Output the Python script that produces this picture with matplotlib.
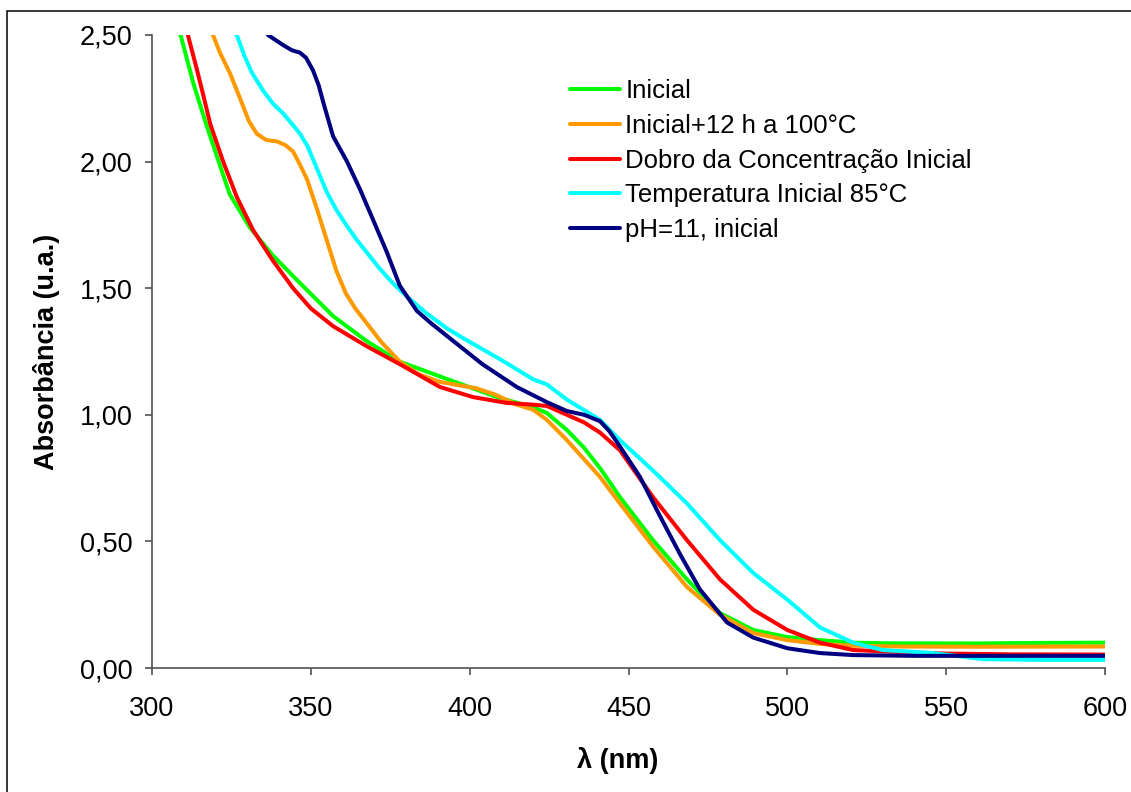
import numpy as np
import matplotlib
matplotlib.use("Agg")
import matplotlib.pyplot as plt
import matplotlib.patches as patches
from matplotlib.ticker import FixedLocator, FixedFormatter

plt.rcParams['font.family'] = ['Liberation Sans', 'DejaVu Sans']

# curvas (lambda em nm, absorbancia em u.a.)
inicial_x = [309, 313, 317, 321, 324.5, 330.8, 338, 346.6, 357, 367.7, 378, 393.8, 409.5,
             420, 424.3, 430.6, 436, 441, 447.3, 457.7, 468.4, 478.8, 489.3, 500, 510.3,
             520.7, 535, 560, 580, 600]
inicial_y = [2.50, 2.31, 2.15, 2.00, 1.87, 1.74, 1.63, 1.52, 1.39, 1.29, 1.21, 1.137, 1.066,
             1.03, 1.007, 0.94, 0.87, 0.79, 0.675, 0.505, 0.35, 0.217, 0.15, 0.122, 0.11,
             0.10, 0.097, 0.097, 0.099, 0.10]

inicial12_x = [319.2, 321.4, 324.5, 327.7, 330.5, 333, 336, 339.3, 342, 344.4, 346.5, 348.8,
               352, 355, 358, 361, 364, 367.7, 372, 378, 384, 390.6, 402, 408, 414.8, 420,
               424.3, 430.6, 441, 447.3, 457.7, 468.4, 478.8, 489.3, 500, 510.3, 520.7, 535,
               560, 600]
inicial12_y = [2.50, 2.43, 2.35, 2.25, 2.16, 2.11, 2.085, 2.08, 2.065, 2.04, 1.99, 1.93,
               1.81, 1.69, 1.57, 1.48, 1.42, 1.36, 1.29, 1.21, 1.16, 1.13, 1.105, 1.08, 1.04,
               1.02, 0.98, 0.90, 0.755, 0.65, 0.48, 0.32, 0.21, 0.138, 0.11, 0.095, 0.088,
               0.085, 0.084, 0.085]

dobro_x = [311.3, 314, 316, 318.3, 322.4, 326.7, 331.8, 338, 344.4, 350, 357, 367.7, 378,
           390.6, 401, 411.7, 420, 424.3, 430.6, 436, 441, 447.3, 457.7, 468.4, 478.8,
           489.3, 500, 510.3, 520.7, 535.5, 550, 570, 600]
dobro_y = [2.50, 2.37, 2.27, 2.15, 2.00, 1.86, 1.73, 1.61, 1.50, 1.42, 1.35, 1.27, 1.20,
           1.11, 1.07, 1.047, 1.04, 1.035, 1.00, 0.97, 0.93, 0.86, 0.675, 0.505, 0.35,
           0.23, 0.15, 0.10, 0.071, 0.063, 0.057, 0.054, 0.053]

temp85_x = [326.7, 329, 331.5, 335, 338, 341.3, 344, 346.6, 349, 351, 353, 355, 358,
            361.4, 364.5, 367.7, 371.5, 375.8, 380, 386.5, 393, 399, 409.5, 420, 424.3,
            430.6, 441, 447.3, 457.7, 468.4, 478.8, 489.3, 500, 510.3, 520.7, 530, 545.8,
            555, 561.6, 580, 600]
temp85_y = [2.50, 2.42, 2.35, 2.28, 2.23, 2.19, 2.15, 2.11, 2.06, 2.00, 1.94, 1.88, 1.81,
            1.745, 1.69, 1.64, 1.58, 1.52, 1.47, 1.40, 1.34, 1.295, 1.22, 1.14, 1.12,
            1.06, 0.98, 0.90, 0.78, 0.65, 0.505, 0.375, 0.27, 0.16, 0.10, 0.071, 0.059,
            0.045, 0.035, 0.032, 0.032]

ph11_x = [336.5, 341.3, 344, 346.6, 348.5, 350.7, 352.5, 354, 357, 361.4, 365.5, 369.6,
          374, 378, 383.4, 388, 394, 404, 414.8, 424.3, 430.6, 436, 441, 444, 447.3, 453.6,
          459.9, 466.2, 472.5, 481, 489.3, 500, 510.3, 520.7, 540, 570, 600]
ph11_y = [2.50, 2.46, 2.44, 2.43, 2.41, 2.36, 2.30, 2.23, 2.10, 2.00, 1.89, 1.77,
          1.64, 1.51, 1.41, 1.36, 1.30, 1.20, 1.11, 1.05, 1.015, 1.00, 0.975, 0.935, 0.875,
          0.755, 0.60, 0.45, 0.31, 0.18, 0.12, 0.078, 0.059, 0.051, 0.048, 0.048, 0.048]

series = [
    ("Inicial", inicial_x, inicial_y, "#00FF00"),
    ("Inicial+12 h a 100°C", inicial12_x, inicial12_y, "#FF9900"),
    ("Dobro da Concentração Inicial", dobro_x, dobro_y, "#FF0000"),
    ("Temperatura Inicial 85°C", temp85_x, temp85_y, "#00FFFF"),
    ("pH=11, inicial", ph11_x, ph11_y, "#000080"),
]

x_ticks = [300, 350, 400, 450, 500, 550, 600]
y_ticks = [0.0, 0.5, 1.0, 1.5, 2.0, 2.5]
y_tick_labels = ["0,00", "0,50", "1,00", "1,50", "2,00", "2,50"]

W, H = 1131, 792
fig = plt.figure(figsize=(W / 100, H / 100), dpi=100)
ax = fig.add_axes([152 / W, 1 - 668 / H, (1105 - 152) / W, (668 - 35) / H])

for nome, xs, ys, cor in series:
    ax.plot(xs, ys, color=cor, lw=2.9, label=nome, solid_capstyle='round',
            solid_joinstyle='round')

ax.set_xlim(300, 600)
ax.set_ylim(0, 2.5)
ax.xaxis.set_major_locator(FixedLocator(x_ticks))
ax.yaxis.set_major_locator(FixedLocator(y_ticks))
ax.yaxis.set_major_formatter(FixedFormatter(y_tick_labels))

for lado in ['top', 'right']:
    ax.spines[lado].set_visible(False)
for lado in ['left', 'bottom']:
    ax.spines[lado].set_color('#505050')
    ax.spines[lado].set_linewidth(1.2)

ax.tick_params(axis='both', direction='out', length=5, width=1.2, color='#505050',
               labelsize=19.5)
ax.tick_params(axis='y', pad=9)
ax.tick_params(axis='x', pad=15)

ax.set_xlabel("λ (nm)", fontsize=19.5, fontweight='bold')
ax.xaxis.set_label_coords((618 - 152) / 953, -(760 - 668) / 633)
ax.xaxis.label.set_va('center')
ax.set_ylabel("Absorbância (u.a.)", fontsize=19.5, fontweight='bold')
ax.yaxis.set_label_coords((47 - 152) / 953, 0.5)
ax.yaxis.label.set_va('center')

ax.legend(loc='upper left', bbox_to_anchor=(570 / W, 1 - 79 / H),
          bbox_transform=fig.transFigure, frameon=False, fontsize=18.5,
          handlelength=1.95, handletextpad=0.2, labelspacing=0.42,
          borderpad=0, borderaxespad=0)

# borda da figura (so aparece a esquerda e em cima)
borda = patches.Rectangle((7 / W, -0.1), 1.5, 1.1 - 11 / H, transform=fig.transFigure,
                          fill=False, edgecolor='black', lw=1.1, clip_on=False)
fig.patches.append(borda)

fig.savefig("out.png", dpi=100)
